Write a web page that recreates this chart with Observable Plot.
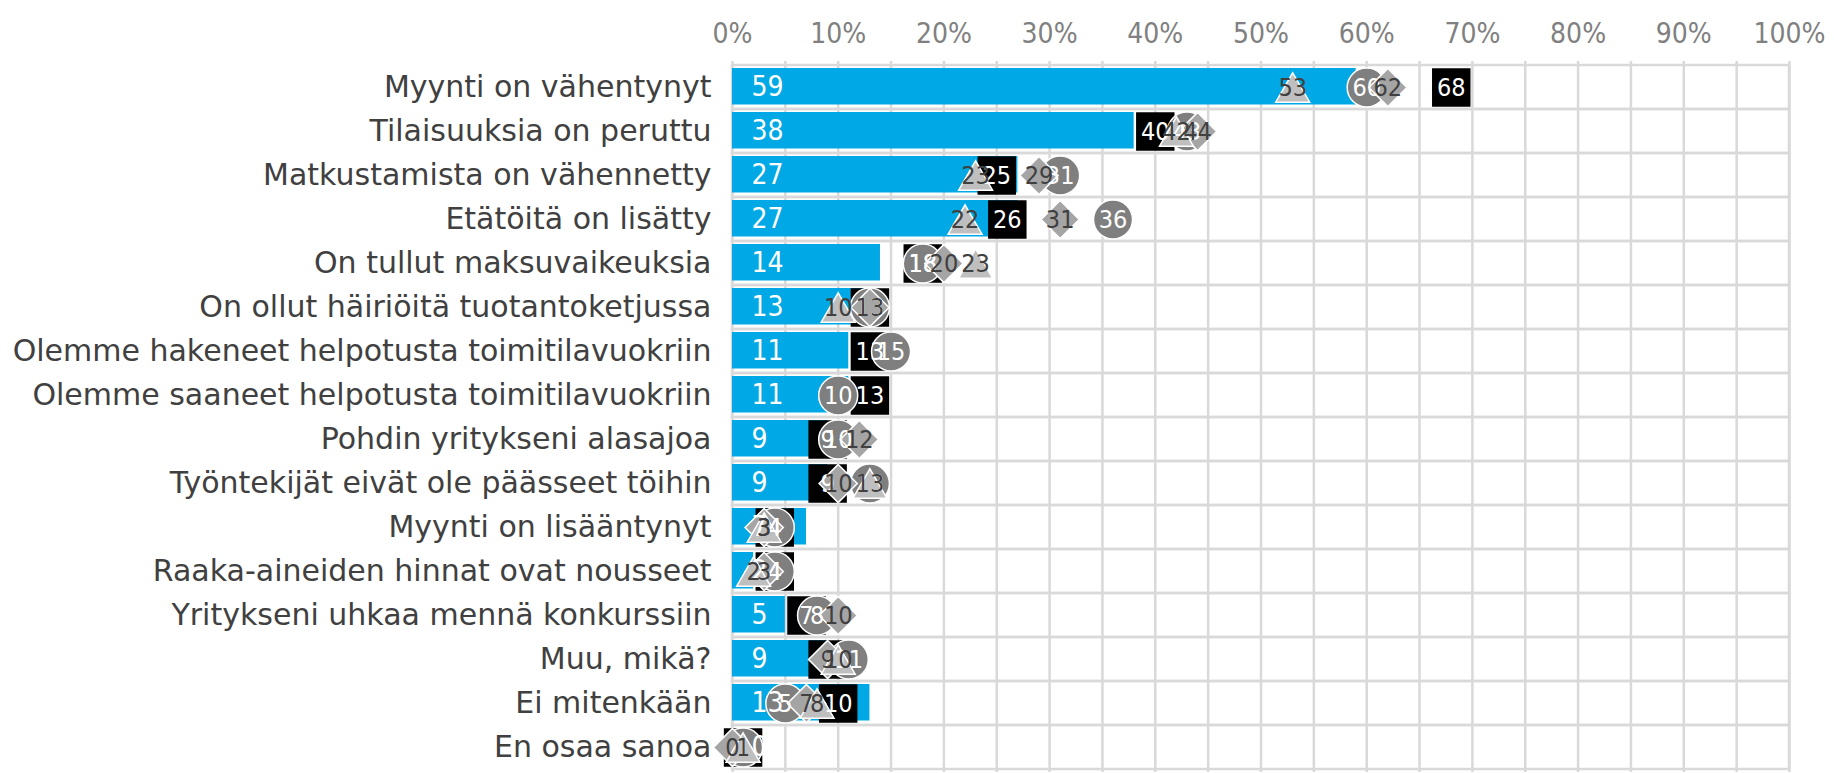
<!DOCTYPE html>
<html>
<head>
<meta charset="utf-8">
<script src="https://cdn.jsdelivr.net/npm/d3@7"></script>
<script src="https://cdn.jsdelivr.net/npm/@observablehq/plot@0.6"></script>
<style>
  html, body { margin: 0; padding: 0; background: #ffffff; }
  #chart svg { display: block; }
</style>
</head>
<body>
<div id="chart"></div>
<script>
const categories = [
  "Myynti on vähentynyt",
  "Tilaisuuksia on peruttu",
  "Matkustamista on vähennetty",
  "Etätöitä on lisätty",
  "On tullut maksuvaikeuksia",
  "On ollut häiriöitä tuotantoketjussa",
  "Olemme hakeneet helpotusta toimitilavuokriin",
  "Olemme saaneet helpotusta toimitilavuokriin",
  "Pohdin yritykseni alasajoa",
  "Työntekijät eivät ole päässeet töihin",
  "Myynti on lisääntynyt",
  "Raaka-aineiden hinnat ovat nousseet",
  "Yritykseni uhkaa mennä konkurssiin",
  "Muu, mikä?",
  "Ei mitenkään",
  "En osaa sanoa"
];
const barValues      = [59, 38, 27, 27, 14, 13, 11, 11, 9, 9, 7, 2, 5, 9, 13, 0];
const squareValues   = [68, 40, 25, 26, 18, 13, 13, 13, 9, 9, 4, 4, 7, 9, 10, 1];
const circleValues   = [60, 43, 31, 36, 18, 13, 15, 10, 10, 13, 4, 4, 8, 11, 5, 1];
const diamondValues  = [62, 44, 29, 31, 20, 13, null, null, 12, 10, 3, 3, 10, 9, 7, 0];
const triangleValues = [53, 42, 23, 22, 23, 10, null, null, null, 13, 3, 2, null, 10, 8, 1];
const xTicks = [0, 10, 20, 30, 40, 50, 60, 70, 80, 90, 100];
const xTickLabels = ["0%", "10%", "20%", "30%", "40%", "50%", "60%", "70%", "80%", "90%", "100%"];
const gridTicks = d3.range(0, 101, 5);

const rows = (arr) => categories.map((c, i) => ({category: c, value: arr[i]})).filter(d => d.value != null);
const barRows = rows(barValues);
const squareRows = rows(squareValues);
const circleRows = rows(circleValues);
const diamondRows = rows(diamondValues);
const triangleRows = rows(triangleValues);
const tickRows = xTicks.map((t, i) => ({t, label: xTickLabels[i]}));

const GRID = "#d9d9d9";
const COND = "'DejaVu Sans Condensed', 'DejaVu Sans', sans-serif";
const MFS = 25;

const markerLabel = (data, fill) => Plot.text(data, {
  x: "value", y: "category", text: d => String(d.value),
  fill, fontSize: MFS, fontFamily: COND, fontStretch: "condensed"
});

const chart = Plot.plot({
  width: 1834,
  height: 773,
  marginLeft: 732,
  marginRight: 45,
  marginTop: 61,
  marginBottom: 1,
  style: {fontFamily: "'DejaVu Sans', Verdana, sans-serif", fontSize: "26px", background: "#ffffff"},
  x: {domain: [0, 100], axis: null},
  y: {type: "band", domain: categories, padding: 0, label: null},
  marks: [
    Plot.ruleX(gridTicks, {x: d => d, stroke: GRID, strokeWidth: 2.5}),
    Plot.barX(categories, {x1: () => 0, x2: () => 100, y: d => d, fill: "none", stroke: GRID, strokeWidth: 2.5}),
    // markers
    Plot.barX(barRows, {x: "value", y: "category", fill: "#00a9e6", insetTop: 3, insetBottom: 4.5}),
    Plot.dot(squareRows, {x: "value", y: "category", symbol: "square", r: 21.7, fill: "black"}),
    Plot.dot(circleRows, {x: "value", y: "category", symbol: "circle", r: 19.5, fill: "#7f7f7f", stroke: "white", strokeWidth: 1.5}),
    Plot.dot(diamondRows, {x: "value", y: "category", symbol: "diamond2", r: 17.2, fill: "#a5a5a5", stroke: "white", strokeWidth: 1.5}),
    Plot.dot(triangleRows, {x: "value", y: "category", symbol: "triangle", r: 12.6, dy: 4.9, fill: "#bfbfbf", stroke: "white", strokeWidth: 1.5}),
    // labels on top of all markers
    Plot.text(barRows, {x: () => 0, y: "category", text: d => String(d.value), textAnchor: "start", dx: 19, fill: "white", fontSize: 28, fontFamily: COND, fontStretch: "condensed"}),
    markerLabel(squareRows, "white"),
    markerLabel(circleRows, "white"),
    markerLabel(diamondRows, "#404040"),
    markerLabel(triangleRows, "#404040"),
    Plot.axisY({tickSize: 0, tickPadding: 21, fontSize: 30, fill: "#404040", label: null}),
    Plot.text(tickRows, {x: "t", frameAnchor: "top", dy: -38, text: "label", fill: "#808080", fontSize: 28, fontFamily: COND, fontStretch: "condensed"})
  ]
});
document.getElementById("chart").appendChild(chart);
</script>
</body>
</html>
